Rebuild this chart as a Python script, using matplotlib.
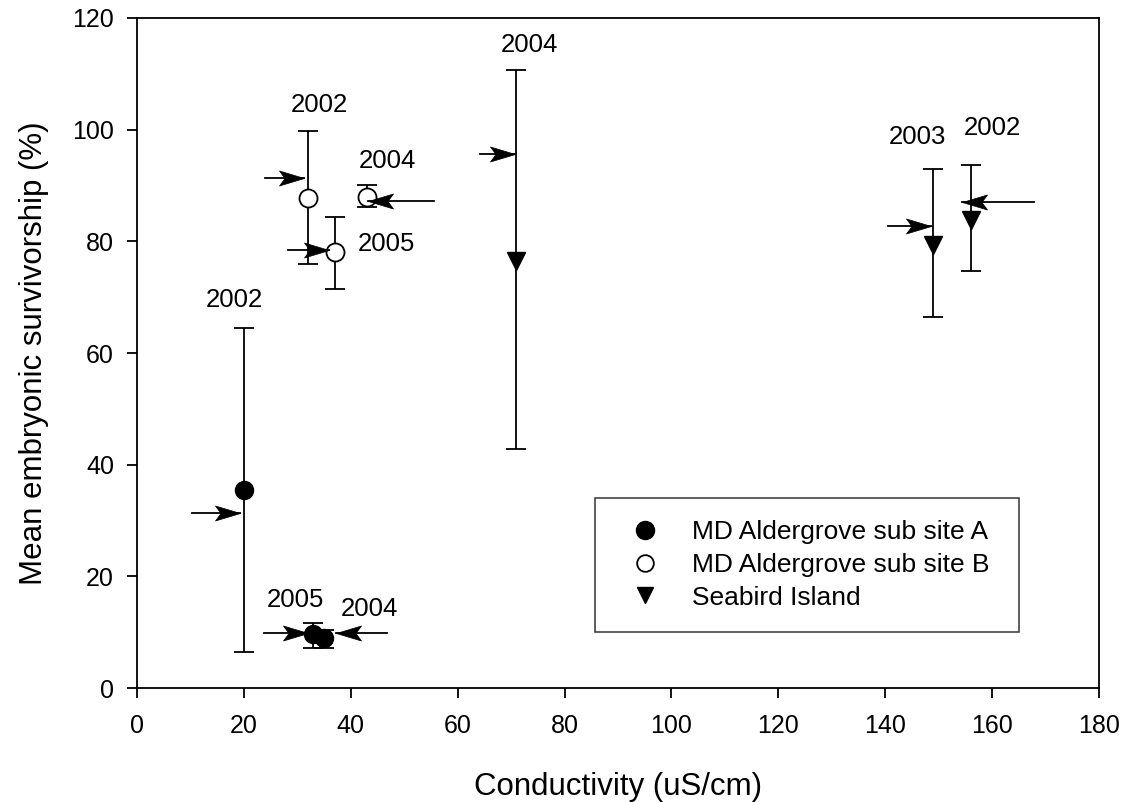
"""
Mean embryonic survivorship vs conductivity for three sites, with year labels
and arrows marking each point.
"""
import matplotlib
matplotlib.use('Agg')
import matplotlib.pyplot as plt
from matplotlib.lines import Line2D
from matplotlib.path import Path

plt.rcParams['font.family'] = ['Liberation Sans', 'DejaVu Sans']

#site A (filled circles)
a_x    = [20, 33, 35]
a_y    = [35.5, 9.6, 8.9]
a_low  = [6.5, 7.2, 7.2]
a_high = [64.5, 11.7, 10.4]

#site B (open circles)
b_x    = [32, 43, 37]
b_y    = [87.8, 88.0, 78.0]
b_low  = [76.0, 86.2, 71.5]
b_high = [99.7, 90.0, 84.3]

#Seabird Island (down triangles)
s_x    = [71, 149, 156]
s_y    = [76.5, 79.3, 83.8]
s_low  = [42.8, 66.4, 74.6]
s_high = [110.6, 92.9, 93.6]

#year labels: text, x, y
label_text = ['2002', '2005', '2004', '2002', '2004', '2005', '2004', '2003', '2002']
label_x    = [18.3, 29.7, 43.4, 34.1, 46.8, 46.6, 73.5, 146.1, 160.1]
label_y    = [69.5, 15.8, 14.2, 104.4, 94.4, 79.5, 115.2, 98.7, 100.3]

#arrows: start x, tip x, y
arrow_x0 = [10.3, 23.8, 46.8, 24.0, 55.5, 28.3, 64.2, 140.5, 167.8]
arrow_x1 = [19.2, 32.0, 37.2, 31.2, 43.3, 36.0, 70.7, 148.6, 154.3]
arrow_y  = [31.3, 9.9, 9.9, 91.4, 87.2, 78.5, 95.7, 82.8, 87.1]

#notched arrowhead marker, tip at the origin
head_r = Path([(0, 0), (-1, 0.3), (-0.78, 0), (-1, -0.3), (0, 0)],
              [Path.MOVETO, Path.LINETO, Path.LINETO, Path.LINETO, Path.CLOSEPOLY])
head_l = Path([(0, 0), (1, 0.3), (0.78, 0), (1, -0.3), (0, 0)],
              [Path.MOVETO, Path.LINETO, Path.LINETO, Path.LINETO, Path.CLOSEPOLY])

fig = plt.figure(figsize=(11.24, 8.02), dpi=100)
ax = fig.add_axes([0.1219, 0.1421, 0.8559, 0.8355])

def err(y, lo, hi):
    return [[v - l for v, l in zip(y, lo)], [h - v for v, h in zip(y, hi)]]

lw = 1.3
common = dict(ecolor='black', elinewidth=lw, capsize=7, capthick=lw,
              linestyle='none', markersize=13, zorder=3)
ax.errorbar(a_x, a_y, yerr=err(a_y, a_low, a_high), fmt='o',
            mfc='black', mec='black', **common)
ax.errorbar(b_x, b_y, yerr=err(b_y, b_low, b_high), fmt='o',
            mfc='white', mec='black', mew=lw, **common)
ax.errorbar(s_x, s_y, yerr=err(s_y, s_low, s_high), fmt='v',
            mfc='black', mec='black', **common)

for t, x, y in zip(label_text, label_x, label_y):
    ax.text(x, y, t, ha='center', va='center', fontsize=18.5)

for x0, x1, y in zip(arrow_x0, arrow_x1, arrow_y):
    head = head_r if x1 > x0 else head_l
    ax.plot([x0, x1], [y, y], color='black', lw=lw, zorder=4)
    ax.plot([x1], [y], linestyle='none', marker=head, markersize=36,
            mfc='black', mec='black', mew=0.5, zorder=5)

ax.set_xlim(0, 180)
ax.set_ylim(0, 120)
ax.set_xticks(range(0, 181, 20))
ax.set_yticks(range(0, 121, 20))
ax.tick_params(direction='out', length=7.5, width=lw, labelsize=18)
ax.tick_params(axis='x', pad=11)
ax.tick_params(axis='y', pad=9)
for s in ax.spines.values():
    s.set_linewidth(lw)
ax.set_xlabel('Conductivity (uS/cm)', fontsize=22.5)
ax.set_ylabel('Mean embryonic survivorship (%)', fontsize=22.5)
ax.xaxis.set_label_coords(0.5, -0.126)
ax.yaxis.set_label_coords(-0.0915, 0.5)

handles = [
    Line2D([], [], linestyle='none', marker='o', mfc='black', mec='black', markersize=13),
    Line2D([], [], linestyle='none', marker='o', mfc='white', mec='black', mew=lw, markersize=12),
    Line2D([], [], linestyle='none', marker='v', mfc='black', mec='black', markersize=12),
]
names = ['MD Aldergrove sub site A', 'MD Aldergrove sub site B', 'Seabird Island']
leg = ax.legend(handles, names, loc='lower left',
                bbox_to_anchor=(0.476, 0.0836, 0.441, 0.2015), mode='expand',
                fontsize=19, frameon=True, fancybox=False, edgecolor='black',
                borderpad=0.85, handlelength=2.1, handletextpad=0.72,
                labelspacing=0.33, borderaxespad=0)
leg.get_frame().set_linewidth(1.1)

fig.savefig('out.png', dpi=100)
